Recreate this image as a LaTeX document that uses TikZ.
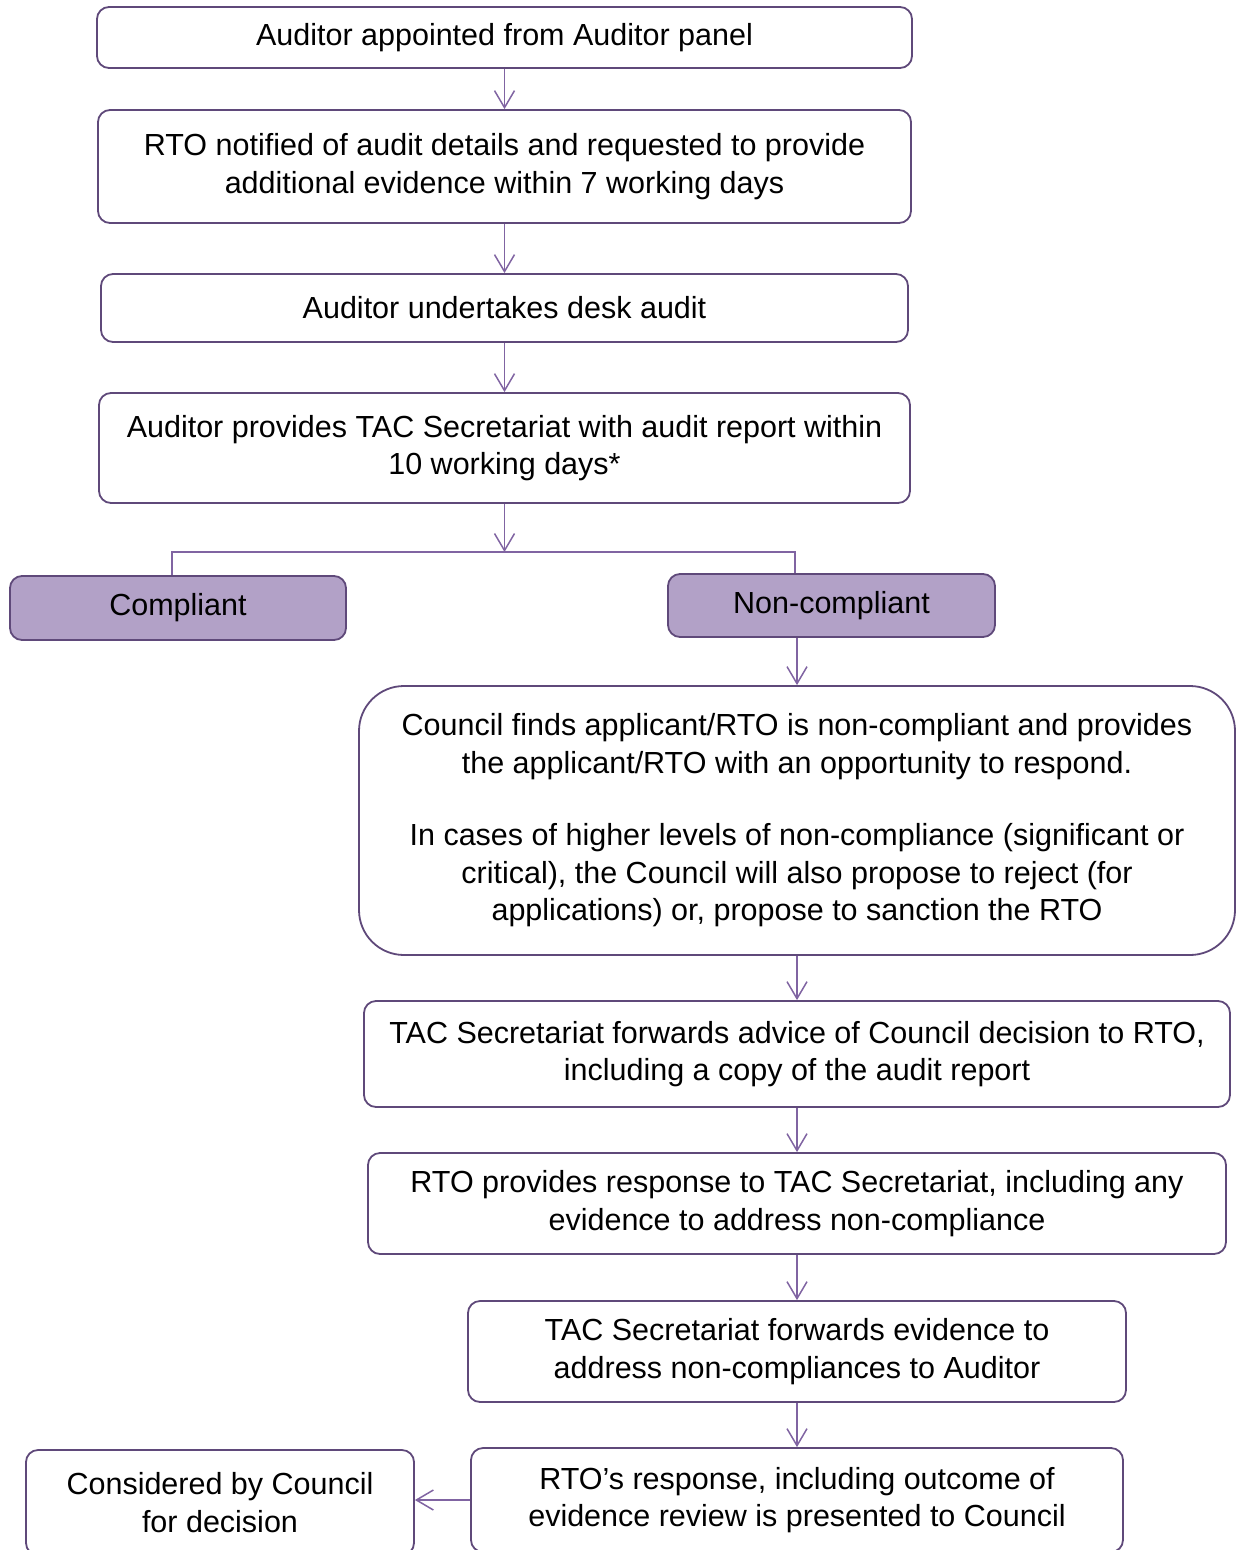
\documentclass[tikz,border=0pt]{standalone}
\usepackage{fontspec}
\setmainfont{Liberation Sans}
\usetikzlibrary{arrows.meta}

\definecolor{boxline}{RGB}{95,73,122}
\definecolor{boxfill}{RGB}{178,161,199}
\definecolor{linkcol}{RGB}{128,100,162}

\begin{document}
\begin{tikzpicture}[x=1pt,y=-1pt,
    stepbox/.style={draw=boxline, line width=1.8pt, rounded corners=12pt, align=center,
        font=\fontsize{30.5}{37.5}\selectfont, inner sep=0pt},
    resultbox/.style={stepbox, fill=boxfill},
    link/.style={draw=linkcol, line width=1.5pt, -{Straight Barb[length=17pt,width=20pt]}},
    branch/.style={draw=linkcol, line width=1.5pt}]
        \useasboundingbox (0,0) rectangle (1238,1550);

        \node[stepbox, minimum width=815pt, minimum height=61pt] (appoint) at (504.5,37.5)
            {Auditor appointed from Auditor panel};
        \node[stepbox, minimum width=813pt, minimum height=113pt] (notify) at (504.5,166.5)
            {RTO notified of audit details and requested to provide\\additional evidence within 7 working days};
        \node[stepbox, minimum width=807pt, minimum height=68pt] (desk) at (504.5,308)
            {Auditor undertakes desk audit};
        \node[stepbox, minimum width=811pt, minimum height=110pt] (report) at (504.5,448)
            {Auditor provides TAC Secretariat with audit report within\\10 working days*};

        \node[resultbox, minimum width=336pt, minimum height=64pt] (compl) at (178,608) {Compliant};
        \node[resultbox, minimum width=327pt, minimum height=63pt] (noncompl) at (831.5,605.5) {Non-compliant};

        \node[stepbox, rounded corners=45pt, minimum width=876pt, minimum height=269pt] (finds) at (797,820.5)
            {Council finds applicant/RTO is non-compliant and provides\\the applicant/RTO with an opportunity to respond.\\[35pt]
             In cases of higher levels of non-compliance (significant or\\critical), the Council will also propose to reject (for\\applications) or, propose to sanction the RTO};
        \node[stepbox, minimum width=866pt, minimum height=106pt] (forward) at (797,1054)
            {TAC Secretariat forwards advice of Council decision to RTO,\\including a copy of the audit report};
        \node[stepbox, minimum width=858pt, minimum height=101pt] (response) at (797,1203.5)
            {RTO provides response to TAC Secretariat, including any\\evidence to address non-compliance};
        \node[stepbox, minimum width=658pt, minimum height=101pt] (evidence) at (797,1351.5)
            {TAC Secretariat forwards evidence to\\address non-compliances to Auditor};
        \node[stepbox, minimum width=652pt, minimum height=104pt] (present) at (797,1500)
            {RTO’s response, including outcome of\\evidence review is presented to Council};
        \node[stepbox, minimum width=388pt, minimum height=105pt] (decide) at (220,1502.5)
            {Considered by Council\\for decision};

        \coordinate (split) at (504.5,552);
        \coordinate (splitL) at (172,552);
        \coordinate (splitR) at (795,552);

        \draw[link] (appoint) -- (notify);
        \draw[link] (notify) -- (desk);
        \draw[link] (desk) -- (report);
        \draw[link] (report) -- (split);
        \draw[branch] (compl.north -| splitL) -- (splitL) -- (splitR) -- (noncompl.north -| splitR);
        \draw[link] (noncompl.south -| finds.north) -- (finds.north);
        \draw[link] (finds) -- (forward);
        \draw[link] (forward) -- (response);
        \draw[link] (response) -- (evidence);
        \draw[link] (evidence) -- (present);
        \draw[link] (present.west) -- (present.west -| decide.east);
    \end{tikzpicture}
\end{document}
